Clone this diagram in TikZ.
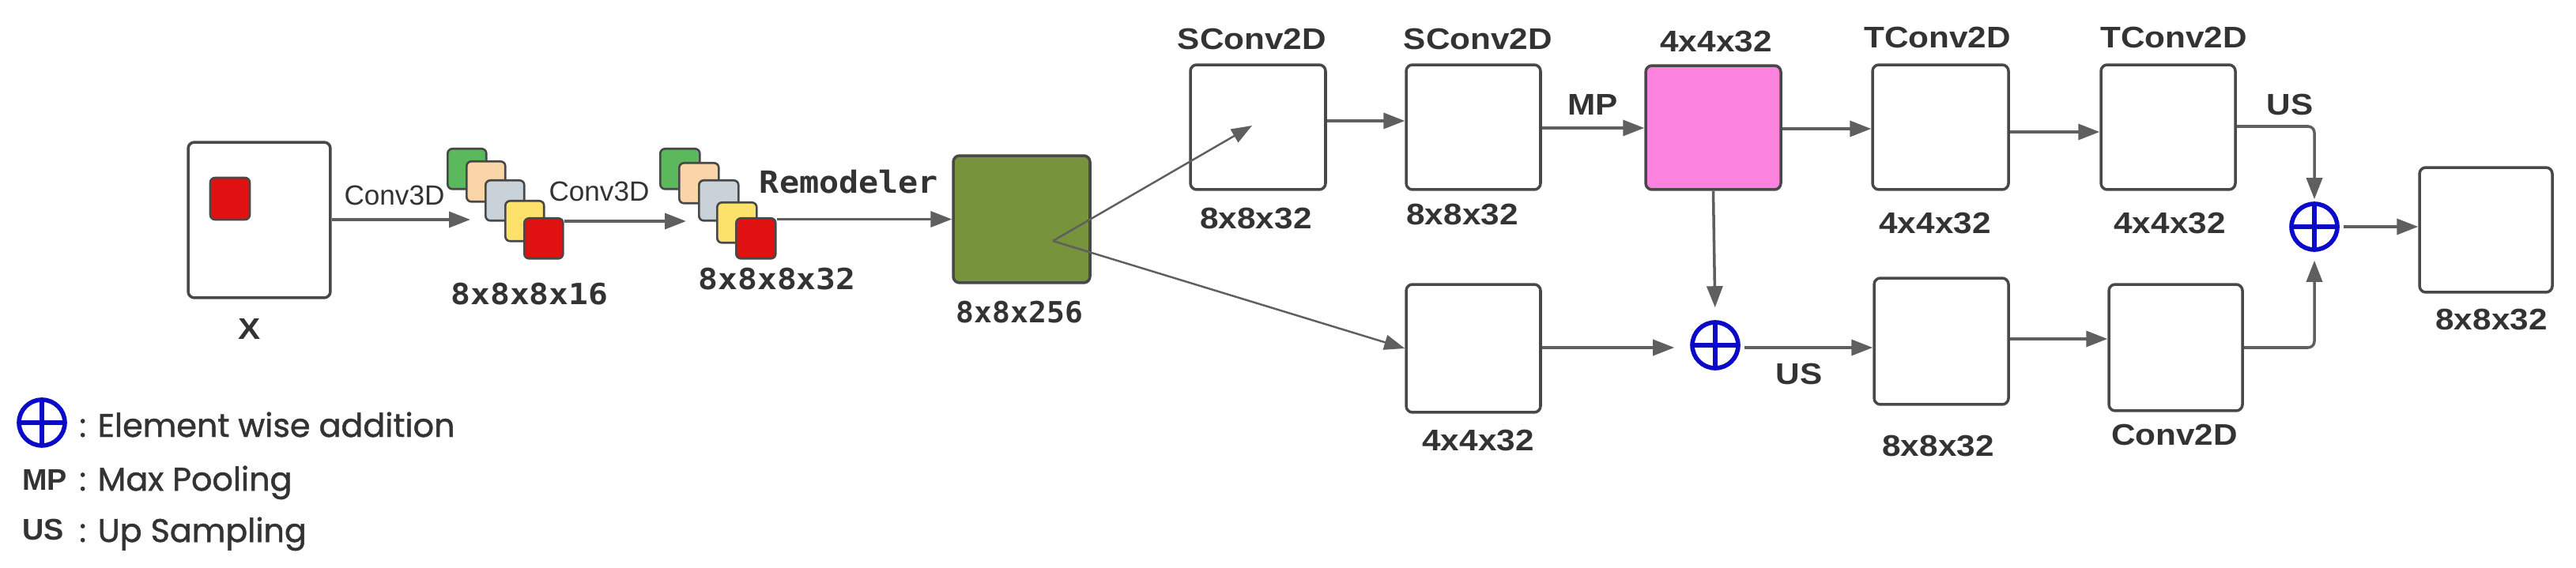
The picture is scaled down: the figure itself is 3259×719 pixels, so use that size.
\documentclass[tikz,border=0pt]{standalone}
\usepackage{fontspec}
\setmainfont{Liberation Sans}
\newfontfamily\lblf[FakeStretch=1.12]{Liberation Sans}
\newfontfamily\convf{Liberation Sans}
\newfontfamily\monoA[FakeStretch=1.12]{DejaVu Sans Mono}
\newfontfamily\monoB[FakeStretch=1.03]{DejaVu Sans Mono}
\newfontfamily\monoC[FakeStretch=1.08]{DejaVu Sans Mono}
\newfontfamily\legf[FakeBold=1.2]{Poppins}
\newfontfamily\legabf{Liberation Sans}
\usetikzlibrary{arrows.meta,calc}
\definecolor{txt}{HTML}{333333}
\definecolor{ln}{HTML}{5F5F5F}
\definecolor{bd}{HTML}{484848}
\definecolor{olive}{HTML}{77933C}
\definecolor{pinkc}{HTML}{FB82DD}
\definecolor{sgreen}{HTML}{5CB85C}
\definecolor{sbeige}{HTML}{F9D5A7}
\definecolor{sgray}{HTML}{C9D1D9}
\definecolor{syellow}{HTML}{FCE26B}
\definecolor{sred}{HTML}{E01111}
\definecolor{addblue}{HTML}{0A0AC8}
\tikzset{
  box/.style={draw=bd, line width=2pt, rounded corners=0.16cm, inner sep=0pt, fill=white},
  sq/.style={draw=bd, line width=1.5pt, rounded corners=0.12cm, minimum width=0.98cm, minimum height=1.02cm, inner sep=0pt, anchor=north west},
  arr/.style={draw=ln, line width=2pt, -{Triangle[length=0.54cm, width=0.4cm]}},
  thinarr/.style={draw=ln, line width=1.4pt, -{Triangle[length=0.52cm, width=0.38cm]}},
  addc/.style={circle, draw=addblue, line width=3.2pt, minimum size=1.16cm, inner sep=0pt,
    path picture={\draw[addblue, line width=3.2pt] (path picture bounding box.north) -- (path picture bounding box.south) (path picture bounding box.west) -- (path picture bounding box.east);}},
  lbl/.style={font=\lblf\bfseries\fontsize{21.5}{25}\selectfont, text=txt, inner sep=0pt},
  lblr/.style={font=\convf\fontsize{20}{24}\selectfont, text=txt, inner sep=0pt},
  monoa/.style={font=\monoA\bfseries\fontsize{21}{25}\selectfont, text=txt, inner sep=0pt},
  monob/.style={font=\monoB\bfseries\fontsize{21}{25}\selectfont, text=txt, inner sep=0pt},
  monoc/.style={font=\monoC\bfseries\fontsize{22}{26}\selectfont, text=txt, inner sep=0pt},
  leg/.style={font=\legf\fontsize{23.5}{28}\selectfont, text=txt, inner sep=0pt, anchor=base west},
  legab/.style={font=\legabf\bfseries\fontsize{21.5}{25}\selectfont, text=txt, inner sep=0pt, anchor=base west}
}
\begin{document}
\begin{tikzpicture}[x=0.02cm, y=-0.02cm]
\fill[white] (0,0) rectangle (3259,719);
\useasboundingbox (0,0) rectangle (3259,719);

% input
\node[box, minimum width=3.6cm, minimum height=3.94cm] (xb) at (328,278.5) {};
\node[draw=bd, line width=1.5pt, fill=sred, rounded corners=0.12cm, minimum width=1.0cm, minimum height=1.06cm, inner sep=0pt] (xr) at (291,251.5) {};
\node[lbl] (xl) at (316,417) {X};

% stack 1
\node[sq, fill=sgreen] (s1a) at (565,187) {};
\node[sq, fill=sbeige] (s1b) at (589,203) {};
\node[sq, fill=sgray] (s1c) at (613,227) {};
\node[sq, fill=syellow] (s1d) at (638,253) {};
\node[sq, fill=sred] (s1e) at (662,275) {};
\node[monoa] (s1l) at (670,372) {8x8x8x16};

% stack 2
\node[sq, fill=sgreen, minimum width=1.0cm] (s2a) at (834,187) {};
\node[sq, fill=sbeige, minimum width=1.0cm] (s2b) at (858,205) {};
\node[sq, fill=sgray, minimum width=1.0cm] (s2c) at (883,227) {};
\node[sq, fill=syellow, minimum width=1.0cm] (s2d) at (906,255) {};
\node[sq, fill=sred, minimum width=1.0cm] (s2e) at (930,275) {};
\node[monoa] (s2l) at (983,353) {8x8x8x32};

% remodeled
\node[box, fill=olive, minimum width=3.46cm, minimum height=3.22cm] (gb) at (1292.5,277.5) {};
\node[monob] (gbl) at (1290,395) {8x8x256};
\coordinate (g0) at (1332,305);

% upper branch
\node[box, minimum width=3.42cm, minimum height=3.16cm] (b1) at (1591.5,161) {};
\node[box, minimum width=3.4cm, minimum height=3.16cm] (b2) at (1864,161) {};
\node[box, fill=pinkc, minimum width=3.42cm, minimum height=3.14cm] (pk) at (2167.5,161.5) {};
\node[box, minimum width=3.44cm, minimum height=3.16cm] (t1) at (2455,161) {};
\node[box, minimum width=3.4cm, minimum height=3.16cm] (t2) at (2743,161) {};
\node[box, minimum width=3.36cm, minimum height=3.16cm] (fin) at (3145,291) {};

% lower branch
\node[box, minimum width=3.4cm, minimum height=3.24cm] (lb) at (1864,441) {};
\node[box, minimum width=3.4cm, minimum height=3.2cm] (mb) at (2456,432) {};
\node[box, minimum width=3.38cm, minimum height=3.2cm] (cv) at (2752.5,440) {};

% additions
\node[addc] (a1) at (2928,287) {};
\node[addc] (a2) at (2170,437) {};

% labels
\node[lblr] (c3a) at (499,247) {Conv3D};
\node[lblr] (c3b) at (758,242) {Conv3D};
\node[monoc] (rem) at (1074,230) {Remodeler};
\node[lbl] (b1t) at (1584,50) {SConv2D};
\node[lbl] (b2t) at (1870,50) {SConv2D};
\node[lbl] (b1b) at (1589,277) {8x8x32};
\node[lbl] (b2b) at (1850,272) {8x8x32};
\node[lbl] (mpl) at (2015,133) {MP};
\node[lbl] (pkt) at (2171,53) {4x4x32};
\node[lbl] (t1t) at (2451,48) {TConv2D};
\node[lbl] (t2t) at (2750,48) {TConv2D};
\node[lbl] (t1b) at (2448,283) {4x4x32};
\node[lbl] (t2b) at (2745,283) {4x4x32};
\node[lbl] (usu) at (2897,133) {US};
\node[lbl] (finb) at (3152,405) {8x8x32};
\node[lbl] (lbb) at (1870,558) {4x4x32};
\node[lbl] (usl) at (2276,473) {US};
\node[lbl] (mbb) at (2452,565) {8x8x32};
\node[lbl] (cvb) at (2751,550) {Conv2D};

% connectors
\coordinate (c1) at (595,278);
\coordinate (c2) at (868,280);
\draw[arr] (xb.east|-c1) -- (c1);
\draw[arr] (s1e.east|-c2) -- (c2);
\draw[arr] (s2e.east|-gb.west) -- (gb.west);
\coordinate (b1tip) at (1584,159);
\draw[thinarr] (g0) -- (b1tip);
\draw[thinarr] (g0) -- (lb.west);
\draw[arr] (b1.east|-0,153) -- (b2.west|-0,153);
\draw[arr] (b2.east|-0,162) -- (pk.west|-0,162);
\draw[arr] (pk.east|-0,163) -- (t1.west|-0,163);
\draw[arr] (t1.east|-0,167) -- (t2.west|-0,167);
\draw[arr, rounded corners=0.16cm, shorten >=0.06cm] (t2.east|-0,160) -| (a1.north);
\draw[arr, shorten <=0.1cm] (a1.east) -- (fin.west|-a1.east);
\draw[arr, shorten >=0.32cm] (pk.south) -- (a2.north);
\draw[arr, shorten >=0.4cm] (lb.east|-0,440) -- (a2.west|-0,440);
\draw[arr, shorten <=0.1cm] (a2.east|-0,440) -- (mb.west|-0,440);
\draw[arr] (mb.east|-0,429) -- (cv.west|-0,429);
\draw[arr, rounded corners=0.16cm, shorten >=0.22cm] (cv.east|-0,440) -| (a1.south);

% legend
\node[addc] (a0) at (53,535) {};
\node[leg] (le1) at (100,553) {: Element wise addition};
\node[legab] (le2a) at (28,620) {MP};
\node[leg] (le2) at (100,621) {: Max Pooling};
\node[legab] (le3a) at (28,683) {US};
\node[leg] (le3) at (100,686) {: Up Sampling};
\end{tikzpicture}
\end{document}
